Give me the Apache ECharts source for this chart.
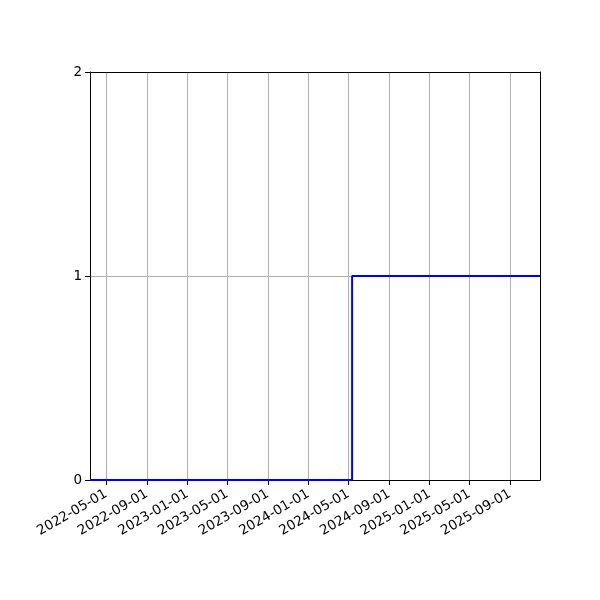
<!DOCTYPE html>
<html>
<head>
<meta charset="utf-8">
<script src="https://cdn.jsdelivr.net/npm/echarts@6/dist/echarts.min.js"></script>
<style>
  html, body { margin: 0; padding: 0; background: #fff; }
  #chart { width: 600px; height: 600px; }
</style>
</head>
<body>
<div id="chart"></div>
<script>
// step data: value 0 until mid May 2024, then 1
const stepDates = ['2022-03-13', '2024-05-12', '2025-11-30'];
const stepValues = [0, 1, 1];

// x axis limits and tick labels
const xLimits = ['2022-03-13', '2025-11-30'];
const xTickLabels = [
  '2022-05-01', '2022-09-01', '2023-01-01', '2023-05-01', '2023-09-01',
  '2024-01-01', '2024-05-01', '2024-09-01', '2025-01-01', '2025-05-01', '2025-09-01'
];
const yTicks = [0, 1, 2];

const ts = s => Date.parse(s + 'T00:00:00Z');
const pad = n => (n < 10 ? '0' : '') + n;
const fmt = v => {
  const d = new Date(v);
  return d.getUTCFullYear() + '-' + pad(d.getUTCMonth() + 1) + '-' + pad(d.getUTCDate());
};

const chart = echarts.init(document.getElementById('chart'));
const tickValues = xTickLabels.map(ts);
const xMin = ts(xLimits[0]), xMax = ts(xLimits[1]);
const yMin = yTicks[0], yMax = yTicks[yTicks.length - 1];

// plain frame axes for the top and right spines
const spine = { show: true, onZero: false, lineStyle: { color: '#000', width: 1 } };

chart.setOption({
  animation: false,
  grid: { left: 90, right: 60, top: 72, bottom: 120 },
  xAxis: [{
    // timestamps on a plain value axis so ticks can sit on the 1st of every 4th month
    type: 'value',
    min: xMin,
    max: xMax,
    axisLine: spine,
    axisTick: { show: true, customValues: tickValues, length: 5, lineStyle: { color: '#000' } },
    axisLabel: {
      customValues: tickValues,
      formatter: v => fmt(v),
      rotate: 30,
      margin: 13,
      color: '#000',
      fontFamily: 'DejaVu Sans',
      fontSize: 13.5,
      hideOverlap: false
    },
    splitLine: { show: true, lineStyle: { color: '#b0b0b0', width: 1 } }
  }, {
    type: 'value', position: 'top', min: xMin, max: xMax, z: 5,
    axisLine: spine, axisTick: { show: false }, axisLabel: { show: false }, splitLine: { show: false }
  }],
  yAxis: [{
    type: 'value',
    min: yMin,
    max: yMax,
    interval: 1,
    axisLine: spine,
    axisTick: { show: true, length: 5, lineStyle: { color: '#000' } },
    axisLabel: { color: '#000', fontFamily: 'DejaVu Sans', fontSize: 13.5, margin: 8 },
    splitLine: { show: true, lineStyle: { color: '#b0b0b0', width: 1 } }
  }, {
    type: 'value', position: 'right', min: yMin, max: yMax, interval: 1, z: 5,
    axisLine: spine, axisTick: { show: false }, axisLabel: { show: false }, splitLine: { show: false }
  }],
  series: [{
    type: 'line',
    step: 'end',
    data: stepDates.map((d, i) => [ts(d), stepValues[i]]),
    showSymbol: false,
    lineStyle: { color: '#0000ff', width: 2 },
    clip: false
  }]
});
</script>
</body>
</html>
